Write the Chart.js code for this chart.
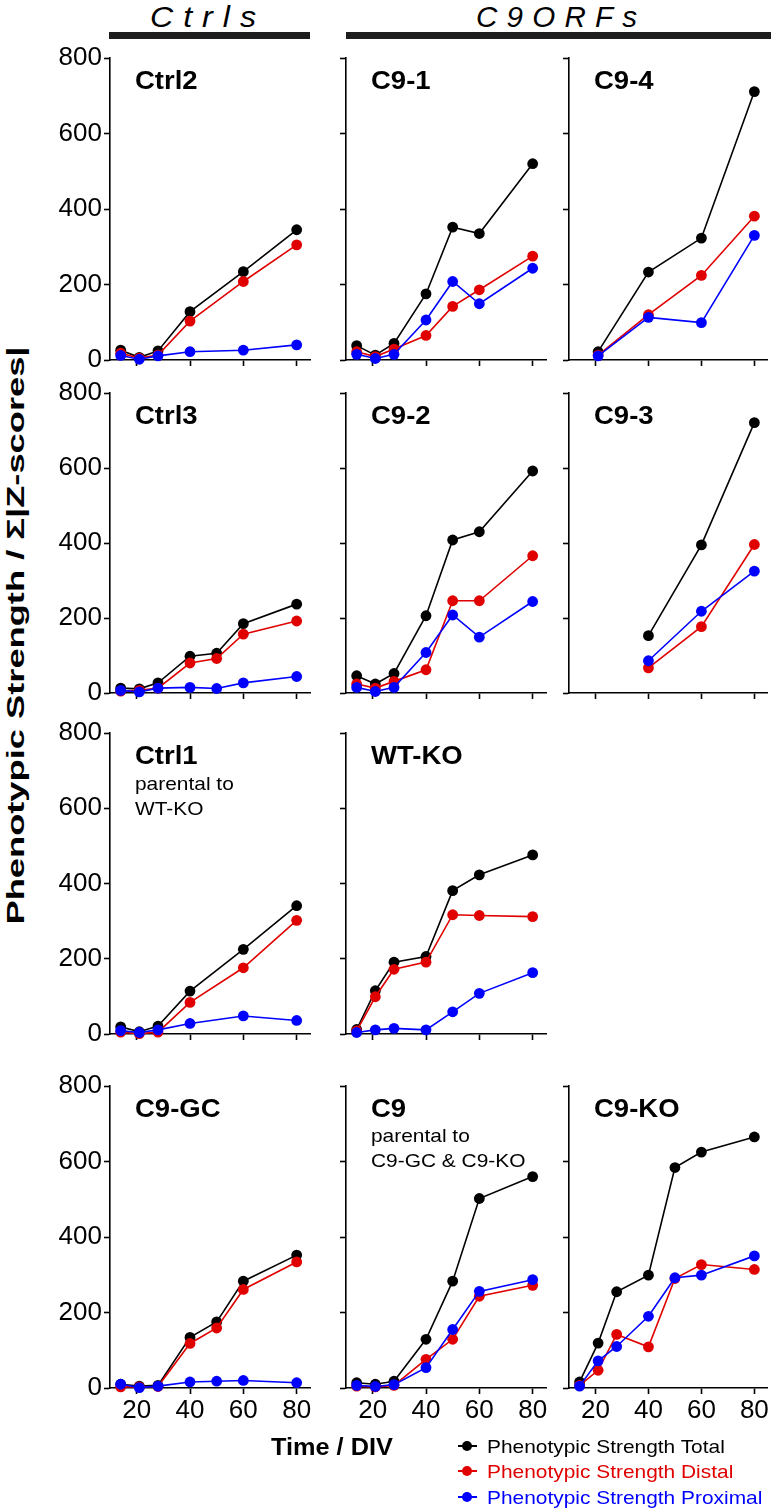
<!DOCTYPE html>
<html><head><meta charset="utf-8">
<script src="https://cdn.jsdelivr.net/npm/chart.js@4.4.1/dist/chart.umd.min.js"></script>
<style>
html,body{margin:0;padding:0;background:#fff;overflow:hidden;}
body{width:771px;height:1508px;position:relative;font-family:'Liberation Sans',Arial,Helvetica,sans-serif;}
canvas{position:absolute;}
.t{position:absolute;white-space:nowrap;line-height:1;color:#000;}
.bar{position:absolute;background:#1e1e1e;}
.lm{position:absolute;width:19px;height:2px;}
.ld{position:absolute;width:10px;height:10px;border-radius:50%;}
</style></head><body>
<div class="bar" style="left:109px;top:32px;width:201px;height:7px"></div>
<div class="bar" style="left:346px;top:32px;width:425px;height:7px"></div>
<script>
// ---- tick labels ----
const xTickValues = [20, 40, 60, 80];
const yTickValues = [0, 200, 400, 600, 800];

// ---- series: Time / DIV and phenotypic strengths ----
const ctrl2Days = [14, 21, 28, 40, 60, 80];
const ctrl2Total = [26, 7, 24, 128, 234, 345];
const ctrl2Distal = [18, 5, 13, 103, 208, 305];
const ctrl2Proximal = [12, 2, 11, 22, 26, 40];

const c91Days = [14, 21, 28, 40, 50, 60, 80];
const c91Total = [38, 13, 44, 175, 352, 335, 520];
const c91Distal = [22, 9, 29, 65, 142, 186, 275];
const c91Proximal = [15, 4, 15, 106, 208, 149, 243];

const c94Days = [21, 40, 60, 80];
const c94Total = [22, 233, 323, 711];
const c94Distal = [13, 120, 224, 381];
const c94Proximal = [11, 113, 99, 330];

const ctrl3Days = [14, 21, 28, 40, 50, 60, 80];
const ctrl3Total = [13, 11, 27, 98, 106, 185, 237];
const ctrl3Distal = [5, 7, 13, 80, 92, 157, 192];
const ctrl3Proximal = [7, 3, 13, 15, 12, 27, 44];

const c92Days = [14, 21, 28, 40, 50, 60, 80];
const c92Total = [46, 24, 52, 206, 408, 430, 592];
const c92Distal = [24, 13, 31, 62, 246, 246, 366];
const c92Proximal = [15, 4, 15, 108, 208, 149, 244];

const c93Days = [40, 60, 80];
const c93Total = [153, 395, 721];
const c93Distal = [67, 177, 396];
const c93Proximal = [86, 218, 325];

const ctrl1Days = [14, 21, 28, 40, 60, 80];
const ctrl1Total = [19, 6, 21, 114, 225, 341];
const ctrl1Distal = [5, 1, 5, 84, 176, 302];
const ctrl1Proximal = [9, 4, 11, 28, 48, 36];

const wtkoDays = [14, 21, 28, 40, 50, 60, 80];
const wtkoTotal = [12, 115, 191, 206, 381, 423, 476];
const wtkoDistal = [8, 99, 172, 191, 317, 315, 312];
const wtkoProximal = [4, 11, 15, 11, 59, 108, 163];

const c9gcDays = [14, 21, 28, 40, 50, 60, 80];
const c9gcTotal = [10, 5, 7, 134, 175, 283, 352];
const c9gcDistal = [3, 3, 4, 118, 159, 261, 334];
const c9gcProximal = [10, 1, 5, 16, 18, 20, 14];

const c9Days = [14, 21, 28, 40, 50, 60, 80];
const c9Total = [14, 10, 18, 129, 283, 502, 560];
const c9Distal = [5, 3, 7, 76, 129, 243, 272];
const c9Proximal = [7, 4, 9, 54, 155, 256, 287];

const c9koDays = [14, 21, 28, 40, 50, 60, 80];
const c9koTotal = [16, 119, 255, 299, 584, 625, 665];
const c9koDistal = [7, 47, 142, 109, 290, 327, 314];
const c9koProximal = [5, 72, 110, 190, 292, 299, 350];

const seriesNames = ['Phenotypic Strength Total', 'Phenotypic Strength Distal', 'Phenotypic Strength Proximal'];
const seriesColors = ['#000000', '#e00000', '#0000ff'];

// ---- layout ----
const FONT = "'Liberation Sans', Arial, Helvetica, sans-serif";
Chart.defaults.font.family = FONT;
Chart.defaults.color = '#000';
const colAxisX = [110, 346, 569];
const rowTB = [[58, 360], [393, 693], [733, 1034], [1086, 1388]];
const PLOT_W = 200, LEFT_W = 70, PAD_TOP = 18, BOTTOM_H = 46;

function makePanel(col, row, days, total, distal, proximal) {
  const axisX = colAxisX[col];
  const top = rowTB[row][0], bottom = rowTB[row][1];
  const padR = col === 2 ? 4 : 8;
  const W = LEFT_W + PLOT_W + padR, H = PAD_TOP + (bottom - top) + BOTTOM_H;
  const cv = document.createElement('canvas');
  cv.width = W; cv.height = H;
  cv.style.width = W + 'px'; cv.style.height = H + 'px';
  cv.style.left = (axisX - LEFT_W) + 'px';
  cv.style.top = (top - PAD_TOP) + 'px';
  document.body.appendChild(cv);
  const mk = (i, vals, order) => ({
    label: seriesNames[i],
    data: days.map((d, k) => ({ x: d, y: vals[k] })),
    borderColor: seriesColors[i], backgroundColor: seriesColors[i],
    pointBackgroundColor: seriesColors[i], pointBorderColor: seriesColors[i],
    pointRadius: 5.4, pointBorderWidth: 0, borderWidth: 1.6, tension: 0,
    order: order, clip: false
  });
  const axisCommon = {
    grid: { drawOnChartArea: false, drawTicks: true, tickLength: 6, tickWidth: 1.6, tickColor: '#000' },
    border: { display: true, color: '#000', width: 1.6 }
  };
  new Chart(cv, {
    type: 'line',
    data: { datasets: [mk(0, total, 3), mk(1, distal, 2), mk(2, proximal, 1)] },
    options: {
      responsive: false, animation: false, events: [],
      layout: { padding: { top: PAD_TOP, right: padR, left: 0, bottom: 0 } },
      plugins: { legend: { display: false }, tooltip: { enabled: false } },
      scales: {
        x: Object.assign({
          type: 'linear', min: 10, max: 85,
          afterBuildTicks: s => { s.ticks = xTickValues.map(v => ({ value: v })); },
          afterFit: s => { s.height = BOTTOM_H; },
          ticks: { color: row === 3 ? '#000' : 'rgba(0,0,0,0)', font: { size: 26 }, padding: 1, maxRotation: 0, autoSkip: false }
        }, axisCommon),
        y: Object.assign({
          type: 'linear', min: 0, max: 800,
          afterBuildTicks: s => { s.ticks = yTickValues.map(v => ({ value: v })); },
          afterFit: s => { s.width = LEFT_W; },
          ticks: { color: col === 0 ? '#000' : 'rgba(0,0,0,0)', font: { size: 26 }, padding: 2 }
        }, axisCommon)
      }
    }
  });
}

makePanel(0, 0, ctrl2Days, ctrl2Total, ctrl2Distal, ctrl2Proximal);
makePanel(1, 0, c91Days, c91Total, c91Distal, c91Proximal);
makePanel(2, 0, c94Days, c94Total, c94Distal, c94Proximal);
makePanel(0, 1, ctrl3Days, ctrl3Total, ctrl3Distal, ctrl3Proximal);
makePanel(1, 1, c92Days, c92Total, c92Distal, c92Proximal);
makePanel(2, 1, c93Days, c93Total, c93Distal, c93Proximal);
makePanel(0, 2, ctrl1Days, ctrl1Total, ctrl1Distal, ctrl1Proximal);
makePanel(1, 2, wtkoDays, wtkoTotal, wtkoDistal, wtkoProximal);
makePanel(0, 3, c9gcDays, c9gcTotal, c9gcDistal, c9gcProximal);
makePanel(1, 3, c9Days, c9Total, c9Distal, c9Proximal);
makePanel(2, 3, c9koDays, c9koTotal, c9koDistal, c9koProximal);

// ---- texts ----
function addText(str, font, left, cy, opts) {
  opts = opts || {};
  const d = document.createElement('div');
  d.className = 't';
  d.textContent = str;
  d.style.font = font + ' ' + FONT;
  d.style.lineHeight = '1';
  if (opts.ls) d.style.letterSpacing = opts.ls + 'px';
  if (opts.color) d.style.color = opts.color;
  document.body.appendChild(d);
  const r = d.getBoundingClientRect();
  const w = r.width - (opts.ls || 0), h = r.height;
  const sx = opts.target ? opts.target / w : (opts.sx || 1.1);
  if (opts.rotate) {
    d.style.left = (left - r.width / 2) + 'px';
    d.style.top = (cy - h / 2) + 'px';
    d.style.transformOrigin = '50% 50%';
    d.style.transform = 'rotate(-90deg) scaleX(' + sx + ')';
  } else {
    d.style.left = left + 'px';
    d.style.top = (cy - h / 2) + 'px';
    d.style.transformOrigin = '0 50%';
    d.style.transform = 'scaleX(' + sx + ')';
  }
  return d;
}

addText('Ctrls', 'italic 29px', 150, 17, { ls: 9, target: 106 });
addText('C9ORFs', 'italic 29px', 476, 17, { ls: 9, target: 161 });

const BOLD = 'bold 25px', REG = '19px';
function label(col, row, text) { addText(text, BOLD, colAxisX[col] + 25, rowTB[row][0] + 22); }
label(0, 0, 'Ctrl2'); label(1, 0, 'C9-1'); label(2, 0, 'C9-4');
label(0, 1, 'Ctrl3'); label(1, 1, 'C9-2'); label(2, 1, 'C9-3');
label(0, 2, 'Ctrl1'); label(1, 2, 'WT-KO');
label(0, 3, 'C9-GC'); label(1, 3, 'C9'); label(2, 3, 'C9-KO');
addText('parental to', REG, colAxisX[0] + 25, rowTB[2][0] + 50);
addText('WT-KO', REG, colAxisX[0] + 25, rowTB[2][0] + 75);
addText('parental to', REG, colAxisX[1] + 25, rowTB[3][0] + 49);
addText('C9-GC & C9-KO', REG, colAxisX[1] + 25, rowTB[3][0] + 74);

addText('Phenotypic Strength / \u03A3|Z-scores|', 'bold 23px', 16, 635, { rotate: true, target: 578 });
addText('Time / DIV', 'bold 23px', 271, 1447);

const legendY = [1446, 1471, 1497];
seriesNames.forEach((n, i) => {
  const line = document.createElement('div');
  line.className = 'lm';
  line.style.background = seriesColors[i];
  line.style.left = '458px'; line.style.top = (legendY[i] - 1) + 'px';
  document.body.appendChild(line);
  const dot = document.createElement('div');
  dot.className = 'ld';
  dot.style.background = seriesColors[i];
  dot.style.left = '462px'; dot.style.top = (legendY[i] - 5) + 'px';
  document.body.appendChild(dot);
  addText(n, REG, 487, legendY[i], { color: seriesColors[i] });
});
</script>
</body></html>
